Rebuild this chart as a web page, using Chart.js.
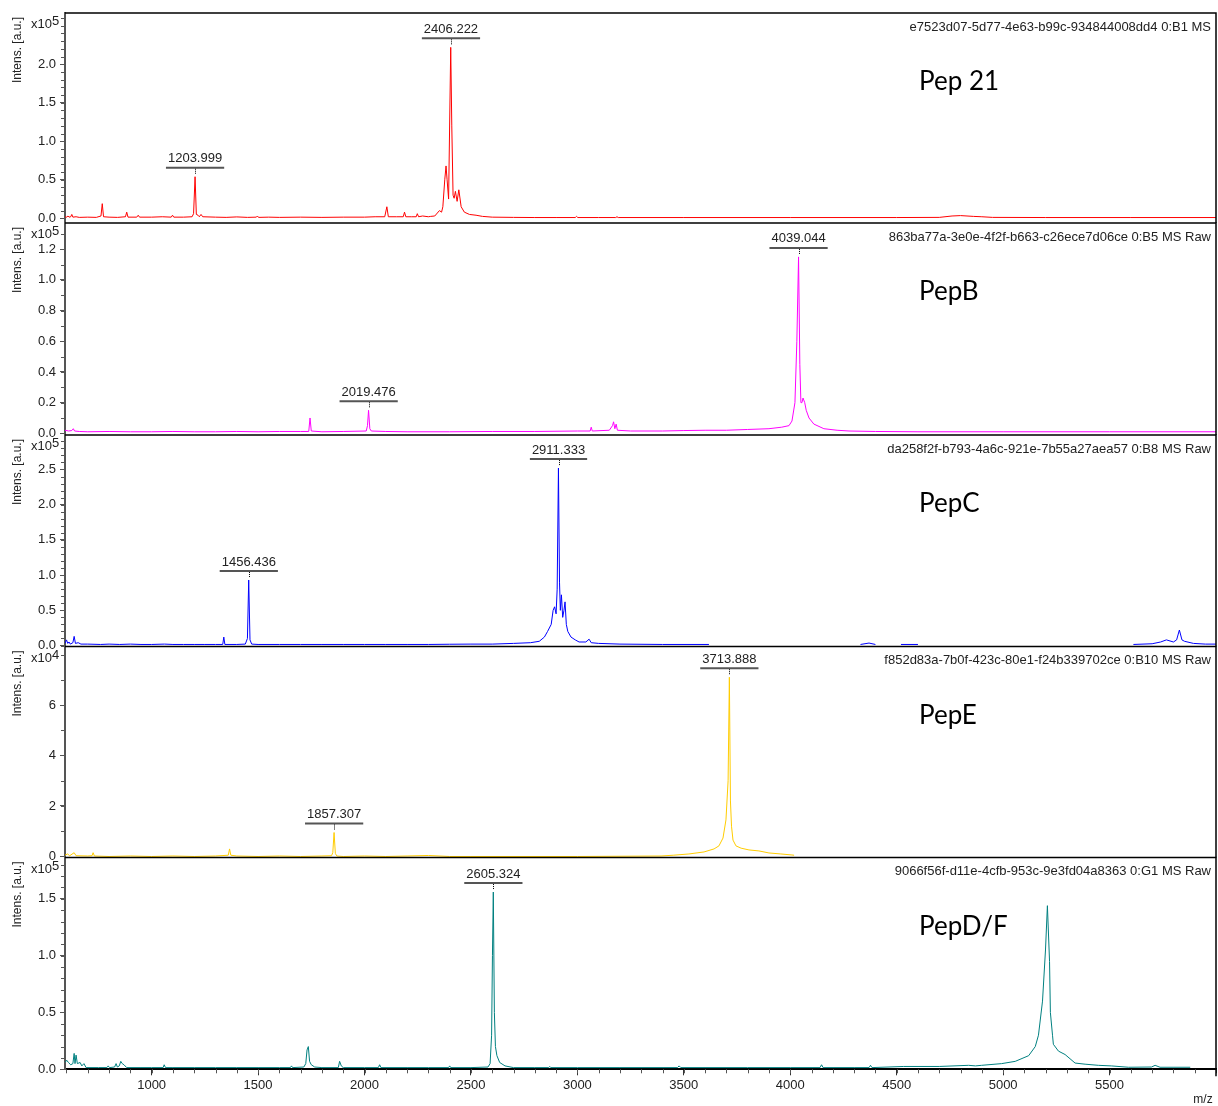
<!DOCTYPE html>
<html>
<head>
<meta charset="utf-8">
<script src="https://cdn.jsdelivr.net/npm/chart.js@4.4.1/dist/chart.umd.min.js"></script>
<style>
  body { margin: 0; background: #fff; }
  #wrap { position: relative; width: 1218px; height: 1106px; }
  #wrap canvas { position: absolute; left: 0; top: 0; }
</style>
</head>
<body>
<div id="wrap"></div>
<script>
// m/z range and tick labels of the shared x axis
const mzRange = [593, 6000];
const xTickLabels = [1000, 1500, 2000, 2500, 3000, 3500, 4000, 4500, 5000, 5500];

// spectra as [m/z, intensity] pairs, intensity in units of the panel multiplier
const pep21 = [[593,0.02],[601,0.015],[607,0.03],[612,0.015],[620,0.02],[625,0.05],[630,0.015],[645,0.02],[660,0.012],[700,0.015],[740,0.012],[762,0.03],[768,0.19],[774,0.02],[800,0.015],[840,0.012],[877,0.02],[883,0.08],[889,0.015],[930,0.015],[937,0.04],[943,0.015],[1000,0.015],[1050,0.02],[1092,0.015],[1098,0.04],[1104,0.015],[1150,0.015],[1190,0.02],[1197,0.06],[1204,0.54],[1210,0.05],[1218,0.04],[1224,0.02],[1232,0.05],[1240,0.02],[1300,0.015],[1350,0.012],[1400,0.018],[1450,0.012],[1492,0.015],[1497,0.03],[1502,0.012],[1550,0.015],[1600,0.012],[1700,0.015],[1800,0.012],[1900,0.015],[2000,0.015],[2050,0.02],[2095,0.02],[2105,0.15],[2112,0.02],[2150,0.02],[2182,0.02],[2188,0.08],[2194,0.02],[2220,0.02],[2243,0.02],[2248,0.06],[2254,0.02],[2273,0.03],[2300,0.02],[2311,0.025],[2330,0.03],[2352,0.1],[2362,0.08],[2368,0.15],[2377,0.5],[2383,0.68],[2388,0.5],[2395,0.25],[2405,2.22],[2410,1.2],[2416,0.3],[2421,0.26],[2427,0.35],[2435,0.22],[2443,0.37],[2454,0.15],[2469,0.08],[2493,0.05],[2524,0.04],[2554,0.025],[2600,0.015],[2700,0.012],[2800,0.01],[2900,0.01],[2990,0.01],[2996,0.025],[3002,0.01],[3100,0.01],[3180,0.01],[3186,0.02],[3192,0.01],[3500,0.01],[4000,0.01],[4500,0.01],[4700,0.012],[4760,0.03],[4800,0.035],[4860,0.025],[4900,0.02],[4950,0.012],[5200,0.01],[5600,0.01],[6000,0.01]];

const pepB = [[593,0.02],[610,0.015],[625,0.018],[632,0.03],[638,0.015],[660,0.012],[700,0.01],[800,0.012],[900,0.01],[1000,0.01],[1100,0.012],[1200,0.01],[1300,0.01],[1400,0.012],[1500,0.01],[1600,0.012],[1700,0.012],[1738,0.012],[1744,0.1],[1750,0.015],[1800,0.01],[1900,0.012],[2008,0.015],[2014,0.05],[2019,0.15],[2025,0.03],[2032,0.015],[2100,0.012],[2200,0.01],[2400,0.01],[2600,0.012],[2800,0.012],[3000,0.015],[3060,0.015],[3065,0.04],[3070,0.015],[3150,0.02],[3165,0.05],[3170,0.075],[3176,0.03],[3182,0.06],[3188,0.02],[3250,0.015],[3400,0.015],[3500,0.018],[3600,0.02],[3700,0.02],[3800,0.025],[3900,0.03],[3960,0.04],[3994,0.05],[4008,0.08],[4022,0.2],[4031,0.6],[4039,1.15],[4045,0.45],[4050,0.2],[4055,0.2],[4060,0.23],[4068,0.2],[4075,0.15],[4088,0.1],[4111,0.06],[4158,0.03],[4220,0.02],[4276,0.015],[4400,0.012],[4600,0.01],[5000,0.01],[5500,0.01],[6000,0.01]];

const pepC = [[593,0.03],[600,0.08],[606,0.03],[612,0.05],[618,0.02],[630,0.04],[636,0.13],[642,0.03],[655,0.04],[668,0.02],[700,0.02],[760,0.015],[800,0.02],[850,0.015],[900,0.02],[950,0.015],[1000,0.015],[1060,0.02],[1100,0.015],[1150,0.015],[1200,0.015],[1250,0.015],[1300,0.015],[1334,0.015],[1339,0.12],[1344,0.015],[1400,0.015],[1440,0.02],[1450,0.1],[1456,0.93],[1462,0.08],[1470,0.02],[1500,0.015],[1600,0.015],[1700,0.015],[1800,0.015],[1900,0.015],[2000,0.015],[2100,0.015],[2200,0.015],[2300,0.015],[2400,0.018],[2500,0.02],[2600,0.02],[2700,0.03],[2780,0.04],[2821,0.06],[2845,0.12],[2860,0.2],[2877,0.3],[2886,0.5],[2893,0.55],[2900,0.45],[2905,0.8],[2911,2.52],[2916,0.9],[2920,0.5],[2925,0.72],[2931,0.4],[2937,0.5],[2942,0.62],[2948,0.3],[2955,0.2],[2970,0.12],[2990,0.08],[3008,0.05],[3040,0.05],[3055,0.09],[3065,0.04],[3100,0.03],[3200,0.02],[3400,0.015],[3618,0.015],[3620,null],[4330,0.015],[4370,0.035],[4400,0.015],[4420,null],[4520,0.015],[4600,0.015],[4610,null],[5612,0.015],[5700,0.025],[5740,0.05],[5767,0.08],[5800,0.05],[5815,0.08],[5828,0.22],[5840,0.08],[5852,0.06],[5894,0.03],[5950,0.02],[6000,0.02]];

const pepE = [[593,0.05],[605,0.1],[615,0.03],[636,0.15],[645,0.03],[700,0.02],[720,0.03],[725,0.15],[731,0.02],[800,0],[900,0.02],[1000,0],[1100,0.02],[1200,0],[1300,0.02],[1360,0.05],[1366,0.3],[1372,0.05],[1400,0.02],[1500,0],[1600,0.02],[1700,0],[1800,0.02],[1845,0.03],[1851,0.15],[1857,0.95],[1863,0.12],[1870,0.02],[1900,0],[2000,0.02],[2100,0],[2200,0.02],[2300,0.04],[2400,0],[2500,0],[3000,0],[3393,0.02],[3450,0.05],[3524,0.1],[3595,0.18],[3642,0.3],[3665,0.42],[3684,0.73],[3698,1.45],[3708,3.0],[3714,7.1],[3719,2.2],[3724,1.2],[3731,0.65],[3745,0.42],[3769,0.33],[3806,0.26],[3853,0.22],[3900,0.14],[3956,0.1],[4008,0.06],[4018,0.05]];

const pepDF = [[593,0.06],[601,0.08],[609,0.06],[620,0.04],[630,0.05],[636,0.14],[640,0.05],[645,0.125],[651,0.05],[664,0.06],[672,0.03],[682,0.05],[692,0.015],[750,0.015],[790,0.015],[796,0.03],[802,0.015],[826,0.02],[833,0.05],[839,0.02],[848,0.03],[855,0.07],[862,0.05],[870,0.04],[883,0.015],[950,0.015],[1000,0.015],[1054,0.015],[1059,0.04],[1065,0.015],[1100,0.015],[1200,0.015],[1300,0.015],[1400,0.015],[1500,0.015],[1600,0.015],[1652,0.015],[1657,0.03],[1662,0.015],[1715,0.02],[1724,0.05],[1730,0.17],[1736,0.2],[1742,0.07],[1750,0.04],[1766,0.02],[1800,0.015],[1877,0.015],[1883,0.07],[1891,0.03],[1900,0.015],[2000,0.015],[2065,0.015],[2071,0.04],[2077,0.015],[2200,0.015],[2300,0.015],[2395,0.015],[2400,0.03],[2405,0.015],[2500,0.015],[2580,0.02],[2590,0.05],[2597,0.3],[2601,1.0],[2605,1.56],[2610,0.5],[2615,0.2],[2622,0.12],[2635,0.06],[2660,0.03],[2700,0.015],[2800,0.015],[2865,0.015],[2870,0.025],[2875,0.015],[3000,0.015],[3200,0.015],[3470,0.015],[3478,0.03],[3486,0.015],[3800,0.015],[4000,0.015],[4140,0.015],[4147,0.04],[4154,0.015],[4300,0.015],[4370,0.015],[4377,0.035],[4384,0.015],[4533,0.025],[4700,0.025],[4838,0.035],[4870,0.03],[4899,0.035],[4993,0.05],[5057,0.07],[5120,0.12],[5151,0.2],[5166,0.3],[5185,0.6],[5199,1.05],[5208,1.44],[5218,0.95],[5222,0.5],[5232,0.3],[5236,0.22],[5260,0.16],[5291,0.13],[5338,0.055],[5385,0.045],[5447,0.035],[5508,0.03],[5589,0.018],[5697,0.02],[5714,0.035],[5737,0.018],[5879,0.018]];

const panelNames = ['Pep 21', 'PepB', 'PepC', 'PepE', 'PepD/F'];
const sampleIds = [
  'e7523d07-5d77-4e63-b99c-934844008dd4 0:B1 MS',
  '863ba77a-3e0e-4f2f-b663-c26ece7d06ce 0:B5 MS Raw',
  'da258f2f-b793-4a6c-921e-7b55a27aea57 0:B8 MS Raw',
  'f852d83a-7b0f-423c-80e1-f24b339702ce 0:B10 MS Raw',
  '9066f56f-d11e-4cfb-953c-9e3fd04a8363 0:G1 MS Raw'
];
const peakLabels = [[1203.999, 2406.222], [2019.476, 4039.044], [1456.436, 2911.333], [1857.307, 3713.888], [2605.324]];
const yTickLabels = [
  [0, 0.5, 1.0, 1.5, 2.0],
  [0, 0.2, 0.4, 0.6, 0.8, 1.0, 1.2],
  [0, 0.5, 1.0, 1.5, 2.0, 2.5],
  [0, 2, 4, 6],
  [0, 0.5, 1.0, 1.5]
];
const yExponents = ['5', '5', '5', '4', '5'];

// layout and style
const spectra = [pep21, pepB, pepC, pepE, pepDF];
const lineColors = ['#ff0000', '#ff00ff', '#0000ff', '#ffcc00', '#008080'];
const panelTops = [13, 223, 435, 646.5, 857.5];
const panelBottoms = [223, 435, 646.5, 857.5, 1069.3];
const yMins = [-0.061, -0.011, -0.014, -0.04, 0];
const yMaxs = [2.666, 1.371, 2.99, 8.317, 1.864];
const yMinorSteps = [0.1, 0.1, 0.1, 1, 0.1];
const yDecimals = [1, 1, 1, 0, 1];
const FONT = '"Liberation Sans", Arial, sans-serif';

Chart.defaults.font.family = FONT;
Chart.defaults.color = '#222';

const wrap = document.getElementById('wrap');
const last = spectra.length - 1;

const panelDeco = {
  id: 'panelDeco',
  afterDraw(chart, args, opts) {
    const i = opts.index;
    const { ctx, chartArea: a, scales: { x, y } } = chart;
    ctx.save();

    // minor ticks
    ctx.strokeStyle = '#555';
    ctx.lineWidth = 1;
    const n = Math.floor(yMaxs[i] / yMinorSteps[i] + 1e-6);
    for (let k = 0; k <= n; k++) {
      const py = Math.round(y.getPixelForValue(k * yMinorSteps[i])) + 0.5;
      ctx.beginPath(); ctx.moveTo(a.left - 4, py); ctx.lineTo(a.left, py); ctx.stroke();
    }
    if (i === last) {
      for (let m = 600; m <= mzRange[1]; m += 100) {
        const px = Math.round(x.getPixelForValue(m)) + 0.5;
        ctx.beginPath(); ctx.moveTo(px, a.bottom); ctx.lineTo(px, a.bottom + 4); ctx.stroke();
      }
    }

    // frame: top and right
    ctx.strokeStyle = '#000';
    ctx.lineWidth = 1.5;
    ctx.beginPath();
    ctx.moveTo(a.left, a.top);
    ctx.lineTo(a.right, a.top);
    ctx.lineTo(a.right, i === last ? a.bottom + 7 : a.bottom);
    ctx.stroke();

    // sample id
    ctx.fillStyle = '#222';
    ctx.font = '13px ' + FONT;
    ctx.textAlign = 'right';
    ctx.textBaseline = 'middle';
    ctx.fillText(sampleIds[i], a.right - 5, a.top + 14);

    // peptide name
    ctx.fillStyle = '#000';
    ctx.font = '26px Lato, sans-serif';
    ctx.textAlign = 'left';
    ctx.fillText(panelNames[i], 919, a.top + 69);

    // multiplier
    ctx.fillStyle = '#222';
    ctx.font = '13px ' + FONT;
    ctx.textBaseline = 'alphabetic';
    ctx.textAlign = 'right';
    ctx.fillText('x10', a.left - 13, a.top + 15);
    ctx.textAlign = 'left';
    ctx.fillText(yExponents[i], a.left - 13, a.top + 12);

    // y title
    ctx.save();
    ctx.translate(18, a.top + 37);
    ctx.rotate(-Math.PI / 2);
    ctx.font = '12px ' + FONT;
    ctx.textAlign = 'center';
    ctx.textBaseline = 'middle';
    ctx.fillText('Intens. [a.u.]', 0, 0);
    ctx.restore();

    if (i === last) {
      ctx.font = '12px ' + FONT;
      ctx.textAlign = 'center';
      ctx.textBaseline = 'middle';
      ctx.fillText('m/z', 1203, 1100);
    }

    // peak labels
    peakLabels[i].forEach(mz => {
      let top = 0;
      spectra[i].forEach(([m, v]) => { if (v != null && Math.abs(m - mz) <= 10 && v > top) top = v; });
      const px = x.getPixelForValue(mz);
      const py = y.getPixelForValue(top);
      const txt = mz.toFixed(3);
      ctx.font = '13px ' + FONT;
      ctx.fillStyle = '#222';
      ctx.textAlign = 'center';
      ctx.textBaseline = 'middle';
      ctx.fillText(txt, px, py - 18);
      const w = ctx.measureText(txt).width + 4;
      ctx.strokeStyle = '#555';
      ctx.lineWidth = 2;
      ctx.beginPath(); ctx.moveTo(px - w / 2, py - 9); ctx.lineTo(px + w / 2, py - 9); ctx.stroke();
      ctx.strokeStyle = '#000';
      ctx.lineWidth = 1;
      ctx.setLineDash([1, 1]);
      const lx = Math.round(px) + 0.5;
      ctx.beginPath(); ctx.moveTo(lx, py - 8); ctx.lineTo(lx, py - 2); ctx.stroke();
      ctx.setLineDash([]);
    });

    ctx.restore();
  }
};

spectra.forEach((spec, i) => {
  const canvas = document.createElement('canvas');
  canvas.width = 1218;
  canvas.height = 1106;
  wrap.appendChild(canvas);
  const isLast = i === last;

  new Chart(canvas, {
    type: 'line',
    data: {
      datasets: [{
        data: spec.map(([m, v]) => ({ x: m, y: v })),
        borderColor: lineColors[i],
        borderWidth: 1,
        pointRadius: 0,
        tension: 0,
        spanGaps: false
      }]
    },
    options: {
      responsive: false,
      animation: false,
      devicePixelRatio: 1,
      events: [],
      layout: {
        autoPadding: false,
        padding: {
          top: panelTops[i],
          bottom: isLast ? 1106 - panelBottoms[i] - 30 : 1106 - panelBottoms[i],
          left: 0,
          right: 2
        }
      },
      plugins: {
        legend: { display: false },
        tooltip: { enabled: false },
        panelDeco: { index: i }
      },
      scales: {
        x: {
          type: 'linear',
          min: mzRange[0],
          max: mzRange[1],
          display: isLast,
          afterFit: s => { s.height = isLast ? 30 : 0; },
          afterBuildTicks: s => { s.ticks = xTickLabels.map(v => ({ value: v })); },
          ticks: { font: { size: 13 }, color: '#222', padding: 2, maxRotation: 0, autoSkip: false, callback: v => String(v) },
          grid: { drawOnChartArea: false, tickLength: 6, tickColor: '#333', tickWidth: 1 },
          border: { color: '#000', width: 2 }
        },
        y: {
          type: 'linear',
          min: yMins[i],
          max: yMaxs[i],
          afterFit: s => { s.width = 65; },
          afterBuildTicks: s => { s.ticks = yTickLabels[i].map(v => ({ value: v })); },
          ticks: { font: { size: 13 }, color: '#222', padding: 4, autoSkip: false, callback: v => v.toFixed(yDecimals[i]) },
          grid: { drawOnChartArea: false, tickLength: 5, tickColor: '#555', tickWidth: 1 },
          border: { color: '#555', width: 2 }
        }
      }
    },
    plugins: [panelDeco]
  });
});
</script>
</body>
</html>
